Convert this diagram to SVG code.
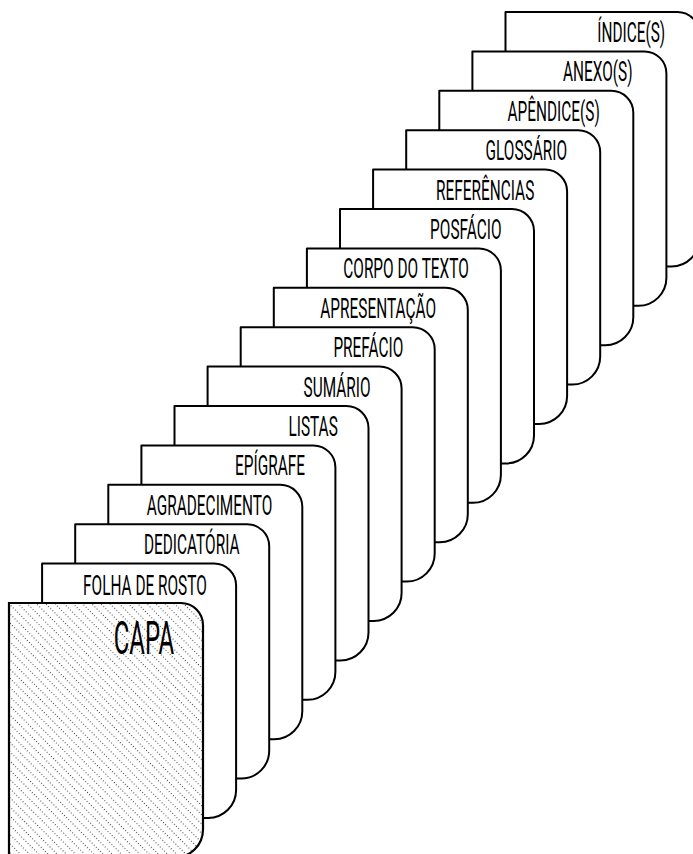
<svg xmlns="http://www.w3.org/2000/svg" xmlns:xlink="http://www.w3.org/1999/xlink" width="693" height="854" viewBox="0 0 693 854">
<style>
.page{fill:#fff;stroke:#000;stroke-width:2;stroke-linejoin:round}
.capa{fill:url(#hatch);stroke:#000;stroke-width:2.2}
.lbl{font-family:Roboto,"Liberation Sans",sans-serif;font-weight:400;font-size:27px;fill:#000;text-anchor:end}
.big{font-family:Roboto,"Liberation Sans",sans-serif;font-weight:400;font-size:46px;fill:#000;text-anchor:end}
</style>
<defs>
<pattern id="hatch" patternUnits="userSpaceOnUse" width="3" height="6.5" patternTransform="rotate(45)">
<rect width="3" height="6.5" fill="#fff"/>
<line x1="0" y1="0.6" x2="3" y2="0.6" stroke="#222" stroke-width="0.9" stroke-dasharray="1 2"/>
</pattern>
<path id="pg" d="M0,0 H172 A22,22 0 0 1 194,22 V226.4 A28,28 0 0 1 166,254.4 H0 Z"/>
</defs>
<g id="connectors"/>
<g id="indices" transform="translate(505.5,12)"><use xlink:href="#pg" class="page"/><text class="lbl" transform="translate(159.7,30) scale(0.57,1)">ÍNDICE(S)</text></g>
<g id="anexos" transform="translate(472.4,51.4)"><use xlink:href="#pg" class="page"/><text class="lbl" transform="translate(160.1,30) scale(0.57,1)">ANEXO(S)</text></g>
<g id="apendices" transform="translate(439.3,90.8)"><use xlink:href="#pg" class="page"/><text class="lbl" transform="translate(160.5,30) scale(0.57,1)">APÊNDICE(S)</text></g>
<g id="glossario" transform="translate(406.2,130.2)"><use xlink:href="#pg" class="page"/><text class="lbl" transform="translate(160.8,30) scale(0.57,1)">GLOSSÁRIO</text></g>
<g id="referencias" transform="translate(373.1,169.6)"><use xlink:href="#pg" class="page"/><text class="lbl" transform="translate(161.2,30) scale(0.57,1)">REFERÊNCIAS</text></g>
<g id="posfacio" transform="translate(340,209)"><use xlink:href="#pg" class="page"/><text class="lbl" transform="translate(161.5,30) scale(0.57,1)">POSFÁCIO</text></g>
<g id="corpo" transform="translate(306.9,248.4)"><use xlink:href="#pg" class="page"/><text class="lbl" transform="translate(161.9,30) scale(0.57,1)">CORPO DO TEXTO</text></g>
<g id="apresentacao" transform="translate(273.8,287.8)"><use xlink:href="#pg" class="page"/><text class="lbl" transform="translate(162.2,30) scale(0.57,1)">APRESENTAÇÃO</text></g>
<g id="prefacio" transform="translate(240.7,327.2)"><use xlink:href="#pg" class="page"/><text class="lbl" transform="translate(162.6,30) scale(0.57,1)">PREFÁCIO</text></g>
<g id="sumario" transform="translate(207.6,366.6)"><use xlink:href="#pg" class="page"/><text class="lbl" transform="translate(162.9,30) scale(0.57,1)">SUMÁRIO</text></g>
<g id="listas" transform="translate(174.5,406)"><use xlink:href="#pg" class="page"/><text class="lbl" transform="translate(163.3,30) scale(0.57,1)">LISTAS</text></g>
<g id="epigrafe" transform="translate(141.4,445.4)"><use xlink:href="#pg" class="page"/><text class="lbl" transform="translate(163.6,30) scale(0.57,1)">EPÍGRAFE</text></g>
<g id="agradecimento" transform="translate(108.3,484.8)"><use xlink:href="#pg" class="page"/><text class="lbl" transform="translate(164,30) scale(0.57,1)">AGRADECIMENTO</text></g>
<g id="dedicatoria" transform="translate(75.2,524.2)"><use xlink:href="#pg" class="page"/><text class="lbl" transform="translate(164.3,30) scale(0.57,1)">DEDICATÓRIA</text></g>
<g id="folha" transform="translate(42.1,563.6)"><use xlink:href="#pg" class="page"/><text class="lbl" transform="translate(164.7,31) scale(0.57,1)">FOLHA DE ROSTO</text></g>
<g id="capa" transform="translate(9,603)"><use xlink:href="#pg" class="capa"/><text class="big" transform="translate(165,51) scale(0.52,1)">CAPA</text></g>
</svg>
